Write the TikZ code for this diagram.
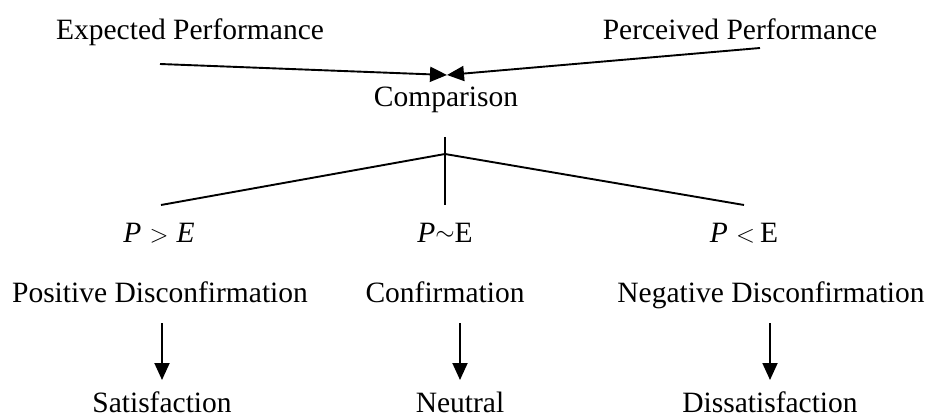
\documentclass[tikz,border=0pt]{standalone}
\usepackage{fontspec}
\setmainfont{Liberation Serif}
\usetikzlibrary{arrows.meta}
\begin{document}
\begin{tikzpicture}[x=1pt,y=-1pt,
  lbl/.style={inner sep=0pt,anchor=base,font=\fontsize{29.5}{34}\selectfont},
  conn/.style={line width=1.9pt},
  arr/.style={conn,-{Triangle[length=17pt,width=15pt]}}]
\useasboundingbox (0,0) rectangle (928,419);
\node[lbl] (exp) at (190,40) {Expected Performance};
\node[lbl] (per) at (740,40) {Perceived Performance};
\node[lbl] (cmp) at (446,107) {Comparison};
\coordinate (ea) at (160,64);
\coordinate (pa) at (760,48);
\coordinate (mid) at (447,75);
\draw[arr] (ea) -- (mid);
\draw[arr] (pa) -- (mid);
\coordinate (jt) at (445,137);
\coordinate (j) at (445,154);
\coordinate (jb) at (445,205);
\coordinate (jl) at (161,205);
\coordinate (jr) at (744,205);
\draw[conn] (jt) -- (jb);
\draw[conn] (jl) -- (j) -- (jr);
\node[lbl] (pg) at (159,243) {\textit{P}\;$>$\;\textit{E}};
\node[lbl] (ps) at (445,243) {\textit{P}\raisebox{0.15ex}{$\sim$}E};
\node[lbl] (pl) at (744,243) {\textit{P}\;$<$\,E};
\node[lbl] (pos) at (160,302) {Positive Disconfirmation};
\node[lbl] (con) at (445,302) {Confirmation};
\node[lbl] (neg) at (771,302) {Negative Disconfirmation};
\coordinate (a1) at (162,323);
\coordinate (b1) at (162,380);
\coordinate (a2) at (460,323);
\coordinate (b2) at (460,380);
\coordinate (a3) at (770,323);
\coordinate (b3) at (770,380);
\draw[arr] (a1) -- (b1);
\draw[arr] (a2) -- (b2);
\draw[arr] (a3) -- (b3);
\node[lbl] (sat) at (162,412) {Satisfaction};
\node[lbl] (neu) at (460,412) {Neutral};
\node[lbl] (dis) at (770,412) {Dissatisfaction};
\end{tikzpicture}
\end{document}
